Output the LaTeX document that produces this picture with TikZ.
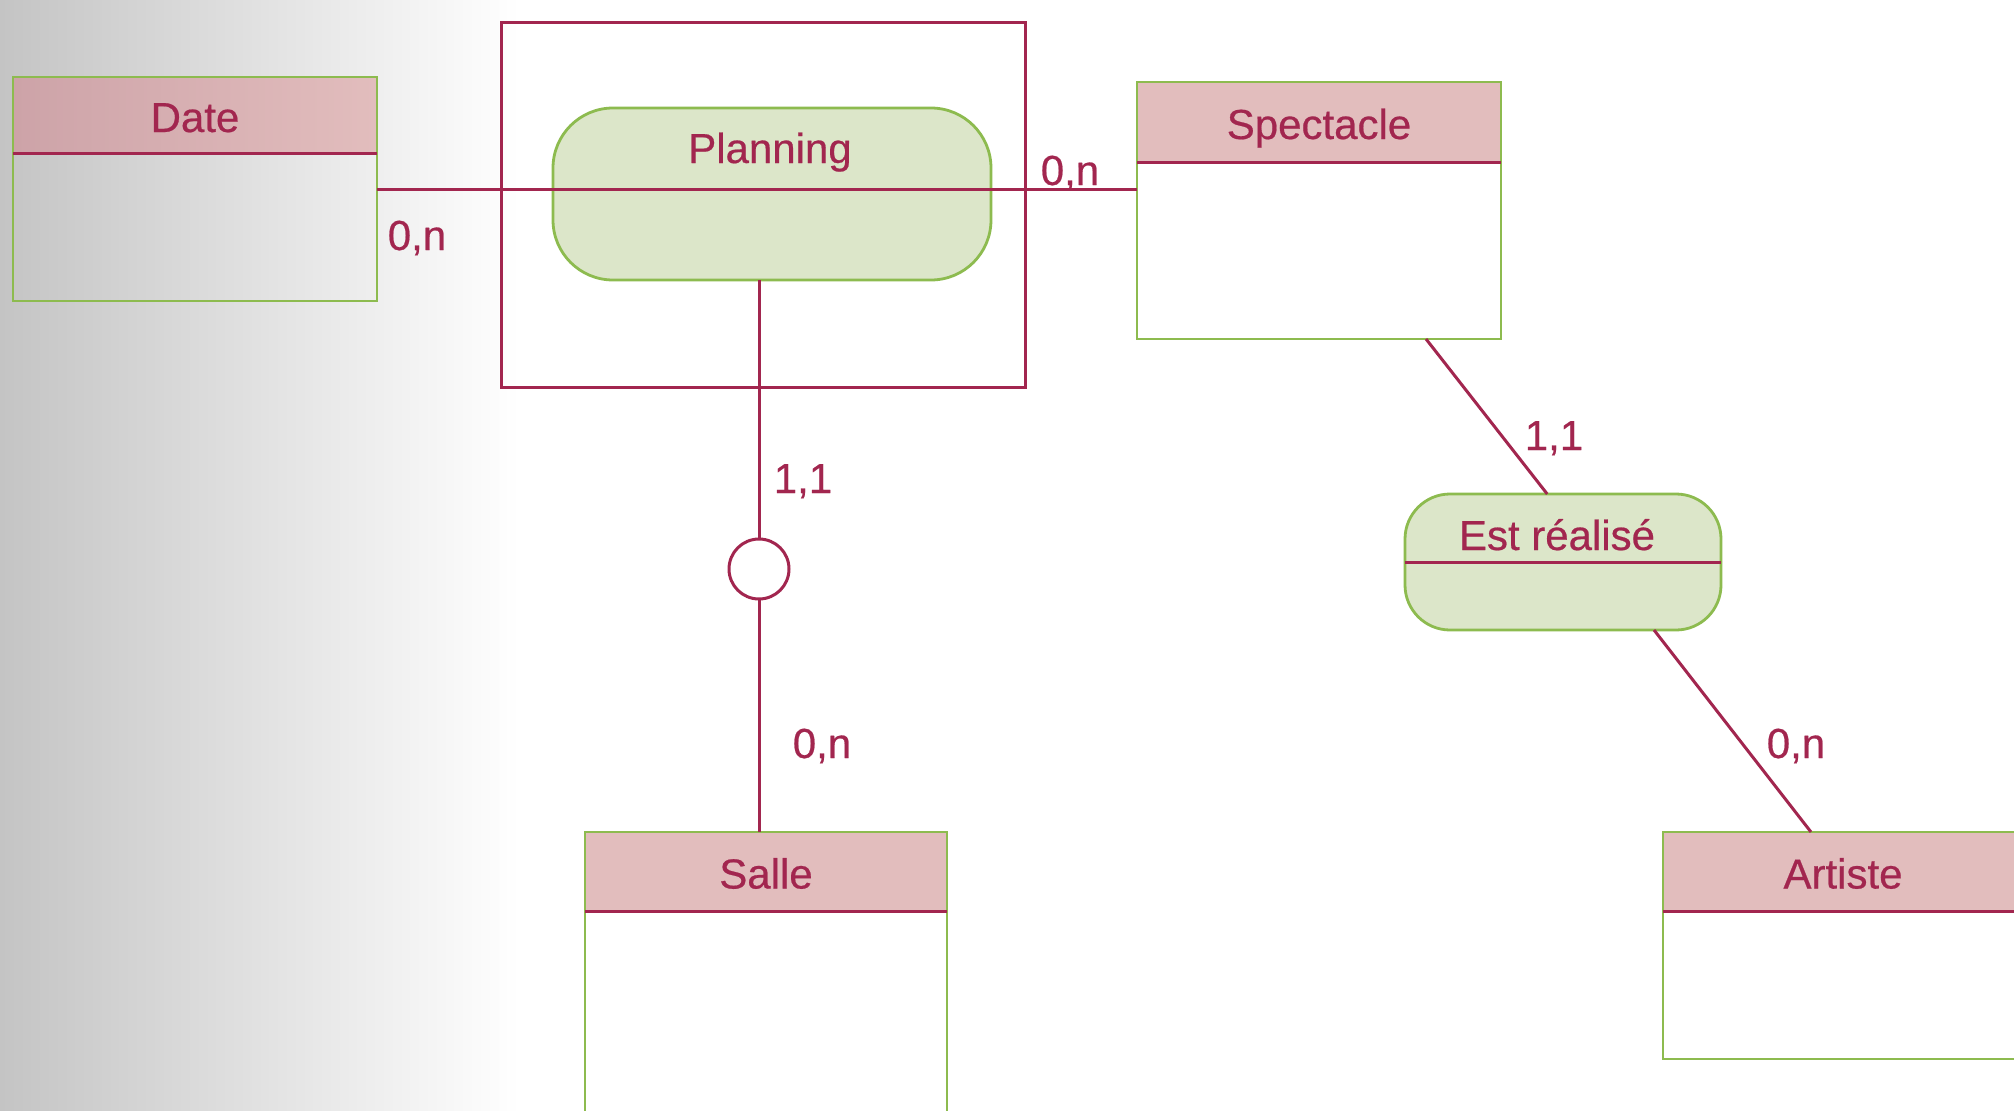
\documentclass[tikz,border=0pt]{standalone}
\usepackage{fontspec}
\setmainfont{Liberation Sans}[FakeBold=0.5]
\usetikzlibrary{calc}
\definecolor{crim}{HTML}{A2264F}
\definecolor{grn}{HTML}{8DBB4F}
\definecolor{pinkh}{HTML}{E2BDBD}
\definecolor{pinkd}{HTML}{CDA3A8}
\definecolor{gfill}{HTML}{DCE6C9}
\definecolor{bgg}{HTML}{C4C4C4}
\newcommand{\ttlfont}{\fontsize{42}{50}\selectfont}
\begin{document}
\begin{tikzpicture}[x=1pt,y=-1pt,
  ebody/.style={draw=grn, line width=2.8pt, inner sep=0pt, outer sep=0pt},
  ehead/.style={draw=grn, line width=2.8pt, fill=pinkh, inner sep=0pt, outer sep=0pt,
    font=\ttlfont, text=crim, text height=38pt, text depth=4pt},
  rel/.style={draw=grn, line width=2.8pt, fill=gfill, inner sep=0pt, outer sep=0pt},
  ttl/.style={font=\ttlfont, text=crim, inner sep=0pt, anchor=base},
  lbl/.style={font=\ttlfont, text=crim, inner sep=0pt, anchor=base},
  conn/.style={draw=crim, line width=3pt},
  frm/.style={draw=crim, line width=3pt, inner sep=0pt, outer sep=0pt}]
\useasboundingbox (0,0) rectangle (2014,1111);
\clip (0,0) rectangle (2014,1111);
% background
\shade[left color=bgg, right color=white] (0,0) rectangle (520,1111);
\fill[white] (520,0) rectangle (2014,1111);
% Planning frame
\node[frm, minimum width=524pt, minimum height=365pt] (frame) at (763,204.5) {};
% Date
\node[ebody, minimum width=364pt, minimum height=224pt] (date) at (195,189) {};
\node[ehead, left color=pinkd, right color=pinkh, minimum width=364pt, minimum height=76pt] (dateh) at (195,115) {Date};
\draw[conn] (dateh.south west) -- (dateh.south east);
% Spectacle
\node[ebody, fill=white, minimum width=364pt, minimum height=257pt] (spect) at (1319,210.5) {};
\node[ehead, minimum width=364pt, minimum height=80pt] (specth) at (1319,122) {Spectacle};
\draw[conn] (specth.south west) -- (specth.south east);
% Salle
\node[ebody, fill=white, minimum width=362pt, minimum height=308pt] (salle) at (766,986) {};
\node[ehead, minimum width=362pt, minimum height=79pt] (salleh) at (766,871.5) {Salle};
\draw[conn] (salleh.south west) -- (salleh.south east);
% Artiste
\node[ebody, fill=white, minimum width=360pt, minimum height=227pt] (art) at (1843,945.5) {};
\node[ehead, minimum width=360pt, minimum height=79pt] (arth) at (1843,871.5) {Artiste};
\draw[conn] (arth.south west) -- (arth.south east);
% Planning relation
\node[rel, minimum width=438pt, minimum height=172pt, rounded corners=60pt] (plan) at (772,194) {};
\node[ttl] (plant) at (770,163) {Planning};
% Est realise relation
\node[rel, minimum width=316pt, minimum height=136pt, rounded corners=45pt] (est) at (1563,562) {};
\node[ttl] (estt) at (1557,550) {Est réalisé};
\draw[conn] (est.west) -- (est.east);
% circle
\node[circle, draw=crim, line width=3pt, fill=white, minimum size=60pt, inner sep=0pt, outer sep=0pt] (circ) at (759,569) {};
% connectors
\draw[conn] (date.east) -- (spect.west |- date.east);
\draw[conn] (plan.south -| circ.north) -- (circ.north);
\draw[conn] (circ.south) -- (circ.south |- salle.north);
\draw[conn] ($(spect.south west)!0.794!(spect.south east)$) -- ($(est.north west)!0.45!(est.north east)$);
\draw[conn] ($(est.south west)!0.788!(est.south east)$) -- ($(art.north west)!0.411!(art.north east)$);
% cardinalities
\node[lbl] (c1) at (417,250) {0,n};
\node[lbl] (c2) at (1070,185) {0,n};
\node[lbl] (c3) at (803,493) {1,1};
\node[lbl] (c4) at (822,758) {0,n};
\node[lbl] (c5) at (1554,450) {1,1};
\node[lbl] (c6) at (1796,758) {0,n};
\end{tikzpicture}
\end{document}
